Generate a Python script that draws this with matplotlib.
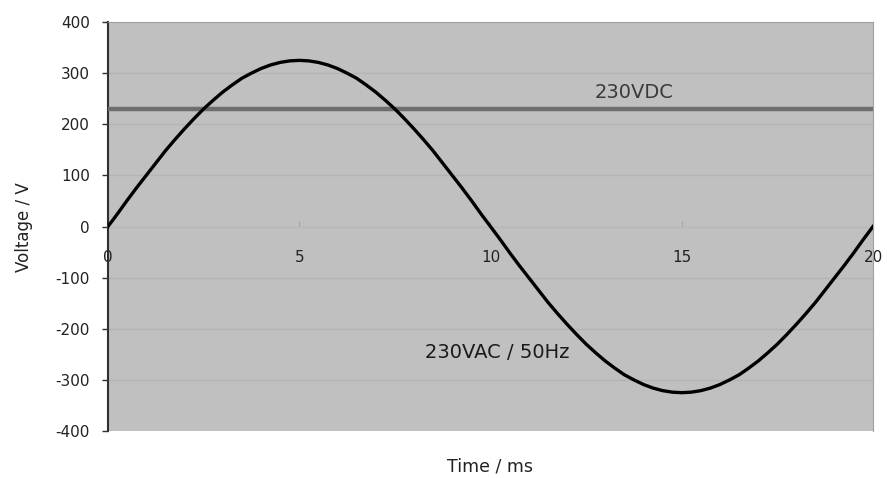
import matplotlib
matplotlib.use("Agg")
import matplotlib.pyplot as plt

time_ms = [0, 0.25, 0.5, 0.75, 1, 1.25, 1.5, 1.75, 2, 2.25, 2.5, 2.75, 3, 3.25, 3.5, 3.75,
           4, 4.25, 4.5, 4.75, 5, 5.25, 5.5, 5.75, 6, 6.25, 6.5, 6.75, 7, 7.25, 7.5, 7.75,
           8, 8.25, 8.5, 8.75, 9, 9.25, 9.5, 9.75, 10, 10.25, 10.5, 10.75, 11, 11.25, 11.5,
           11.75, 12, 12.25, 12.5, 12.75, 13, 13.25, 13.5, 13.75, 14, 14.25, 14.5, 14.75,
           15, 15.25, 15.5, 15.75, 16, 16.25, 16.5, 16.75, 17, 17.25, 17.5, 17.75, 18,
           18.25, 18.5, 18.75, 19, 19.25, 19.5, 19.75, 20]
ac_voltage = [0, 25, 51, 76, 100, 124, 148, 170, 191, 211, 230, 247, 263, 277, 290, 300,
              309, 316, 321, 324, 325, 324, 321, 316, 309, 300, 290, 277, 263, 247, 230, 211,
              191, 170, 148, 124, 100, 76, 51, 25, 0, -25, -51, -76, -100, -124, -148,
              -170, -191, -211, -230, -247, -263, -277, -290, -300, -309, -316, -321, -324,
              -325, -324, -321, -316, -309, -300, -290, -277, -263, -247, -230, -211, -191,
              -170, -148, -124, -100, -76, -51, -25, 0]
dc_voltage = 230
x_ticks = [0, 5, 10, 15, 20]
y_ticks = [-400, -300, -200, -100, 0, 100, 200, 300, 400]
y_tick_labels = ["-400", "-300", "-200", "-100", "0", "100", "200", "300", "400"]
dc_label = "230VDC"
ac_label = "230VAC / 50Hz"

plt.rcParams['font.family'] = ['DejaVu Sans']

fig = plt.figure(figsize=(8.9, 4.78), dpi=100)
ax = fig.add_axes([0.1213, 0.0983, 0.8596, 0.8556])
ax.set_facecolor('#c0c0c0')
ax.set_xlim(0, 20)
ax.set_ylim(-400, 400)

for y in y_ticks[1:-1]:
    ax.axhline(y, color='#b4b4b4', lw=1.0, zorder=1)

ax.plot([0, 20], [dc_voltage, dc_voltage], color='#6e6e6e', lw=3.2, zorder=3, solid_capstyle='butt')
ax.plot(time_ms, ac_voltage, color='black', lw=2.4, zorder=4)

ax.text(12.72, 263, dc_label, fontsize=14, color='#3a3a3a', va='center', ha='left')
ax.text(10.17, -246, ac_label, fontsize=14, color='#1a1a1a', va='center', ha='center')

ax.spines['left'].set_color('#303030')
ax.spines['left'].set_linewidth(1.5)
ax.spines['bottom'].set_position(('data', 0))
ax.spines['bottom'].set_color('#b8b8b8')
ax.spines['bottom'].set_linewidth(0.8)
ax.spines['top'].set_color('#a0a0a0')
ax.spines['right'].set_color('#a0a0a0')

ax.set_yticks(y_ticks)
ax.set_yticklabels(y_tick_labels, fontsize=11, color='#222222')
ax.set_xticks(x_ticks)
ax.set_xticklabels([str(v) for v in x_ticks], fontsize=11, color='#222222')
ax.tick_params(axis='y', length=4, width=1, color='#303030', pad=9)
ax.tick_params(axis='x', length=4, width=0.8, color='#a8a8a8', direction='in', pad=17)

fig.text(0.027, 0.525, "Voltage / V", rotation=90, fontsize=12, ha='center', va='center', color='#222222')
fig.text(0.551, 0.025, "Time / ms", fontsize=12.5, ha='center', va='center', color='#222222')

fig.savefig("out.png", dpi=100)
